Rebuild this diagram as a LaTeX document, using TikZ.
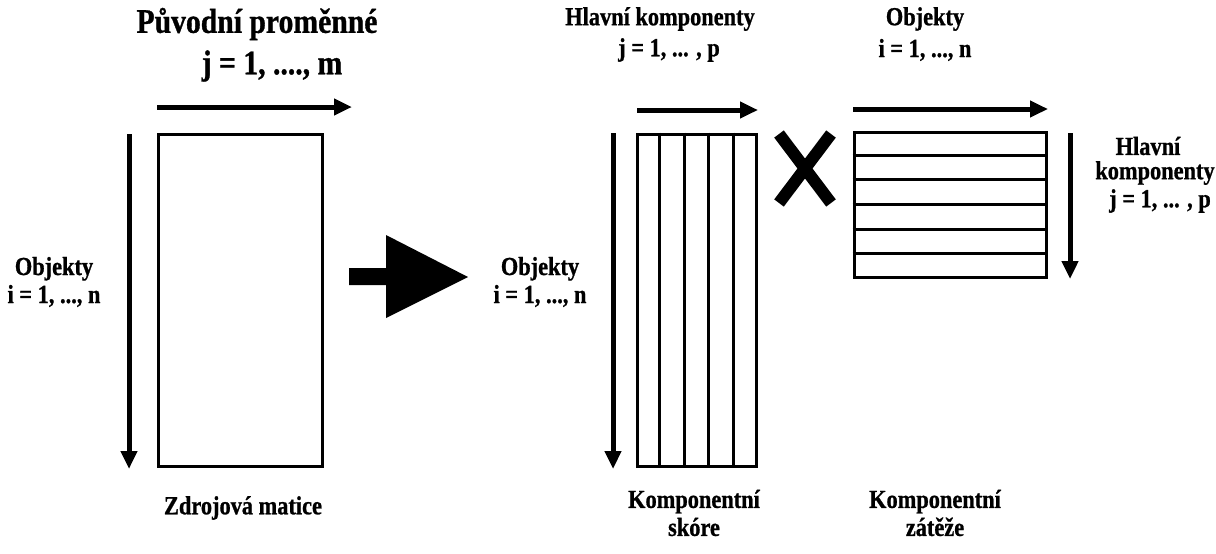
\documentclass[tikz,border=0pt]{standalone}
\usepackage{fontspec}
\newfontfamily\lblfont{Liberation Serif}[UprightFont=* Bold, FakeStretch=0.86, FakeBold=0.9]
\usetikzlibrary{arrows.meta,calc}
\tikzset{
  axis/.style={line width=5pt, -{Triangle[length=18pt,width=16pt]}},
  mat/.style={draw, line width=3pt, inner sep=0pt},
  grid line/.style={line width=3pt},
  lbl/.style={font=\lblfont\fontsize{26}{28}\selectfont, align=center, inner sep=0pt},
  biglbl/.style={font=\lblfont\fontsize{34.5}{36}\selectfont, align=center, inner sep=0pt},
}
\begin{document}
\begin{tikzpicture}[x=1pt,y=-1pt]
\useasboundingbox (0,0) rectangle (1216,554);

% source matrix
\node[mat, minimum width=164pt, minimum height=332pt] (src) at (240,300) {};
% score matrix with five columns
\node[mat, minimum width=119pt, minimum height=332pt] (score) at (696.5,300) {};
\foreach \k in {1,...,4}
  \draw[grid line] ($(score.north west)!\k/5!(score.north east)$) -- ($(score.south west)!\k/5!(score.south east)$);
% loading matrix with six rows
\node[mat, minimum width=192pt, minimum height=145pt] (load) at (950,204.5) {};
\foreach \k in {1,...,5}
  \draw[grid line] ($(load.north west)!\k/6!(load.south west)$) -- ($(load.north east)!\k/6!(load.south east)$);

% axis arrows
\coordinate (a1s) at (129,134); \coordinate (a1e) at (129,469);
\coordinate (a2s) at (157,107); \coordinate (a2e) at (352,107);
\coordinate (a3s) at (613,133); \coordinate (a3e) at (613,469);
\coordinate (a4s) at (637,110); \coordinate (a4e) at (758,110);
\coordinate (a5s) at (853,109); \coordinate (a5e) at (1048,109);
\coordinate (a6s) at (1070,133); \coordinate (a6e) at (1070,279);
\draw[axis] (a1s) -- (a1e);
\draw[axis] (a2s) -- (a2e);
\draw[axis] (a3s) -- (a3e);
\draw[axis] (a4s) -- (a4e);
\draw[axis] (a5s) -- (a5e);
\draw[axis] (a6s) -- (a6e);

% transformation arrow
\fill (349,268) -- (386,268) -- (386,235) -- (468,277) -- (386,318) -- (386,285) -- (349,285) -- cycle;

% multiplication sign
\draw[line width=12pt] (779,134) -- (831,203);
\draw[line width=12pt] (831,134) -- (779,203);

% labels
\node[biglbl] (t1) at (257,24) {Původní proměnné};
\node[biglbl] (t2) at (272,66) {j = 1, ...., m};
\node[lbl] (o1) at (54,282) {Objekty\\i = 1, ..., n};
\node[lbl] (o2) at (540,282) {Objekty\\i = 1, ..., n};
\node[lbl] (h1) at (660,19) {Hlavní komponenty};
\node[lbl] (h2) at (669,50) {j = 1, ... , p};
\node[lbl] (o3) at (925,19) {Objekty};
\node[lbl] (o4) at (925,50) {i = 1, ..., n};
\node[lbl] (r1) at (1148,146) {Hlavní};
\node[lbl] (r2) at (1155,173) {komponenty};
\node[lbl] (r3) at (1160,201) {j = 1, ... , p};
\node[lbl] (b1) at (243,508) {Zdrojová matice};
\node[lbl] (b2) at (694,513) {Komponentní\\skóre};
\node[lbl] (b3) at (935,513) {Komponentní\\zátěže};
\end{tikzpicture}
\end{document}
